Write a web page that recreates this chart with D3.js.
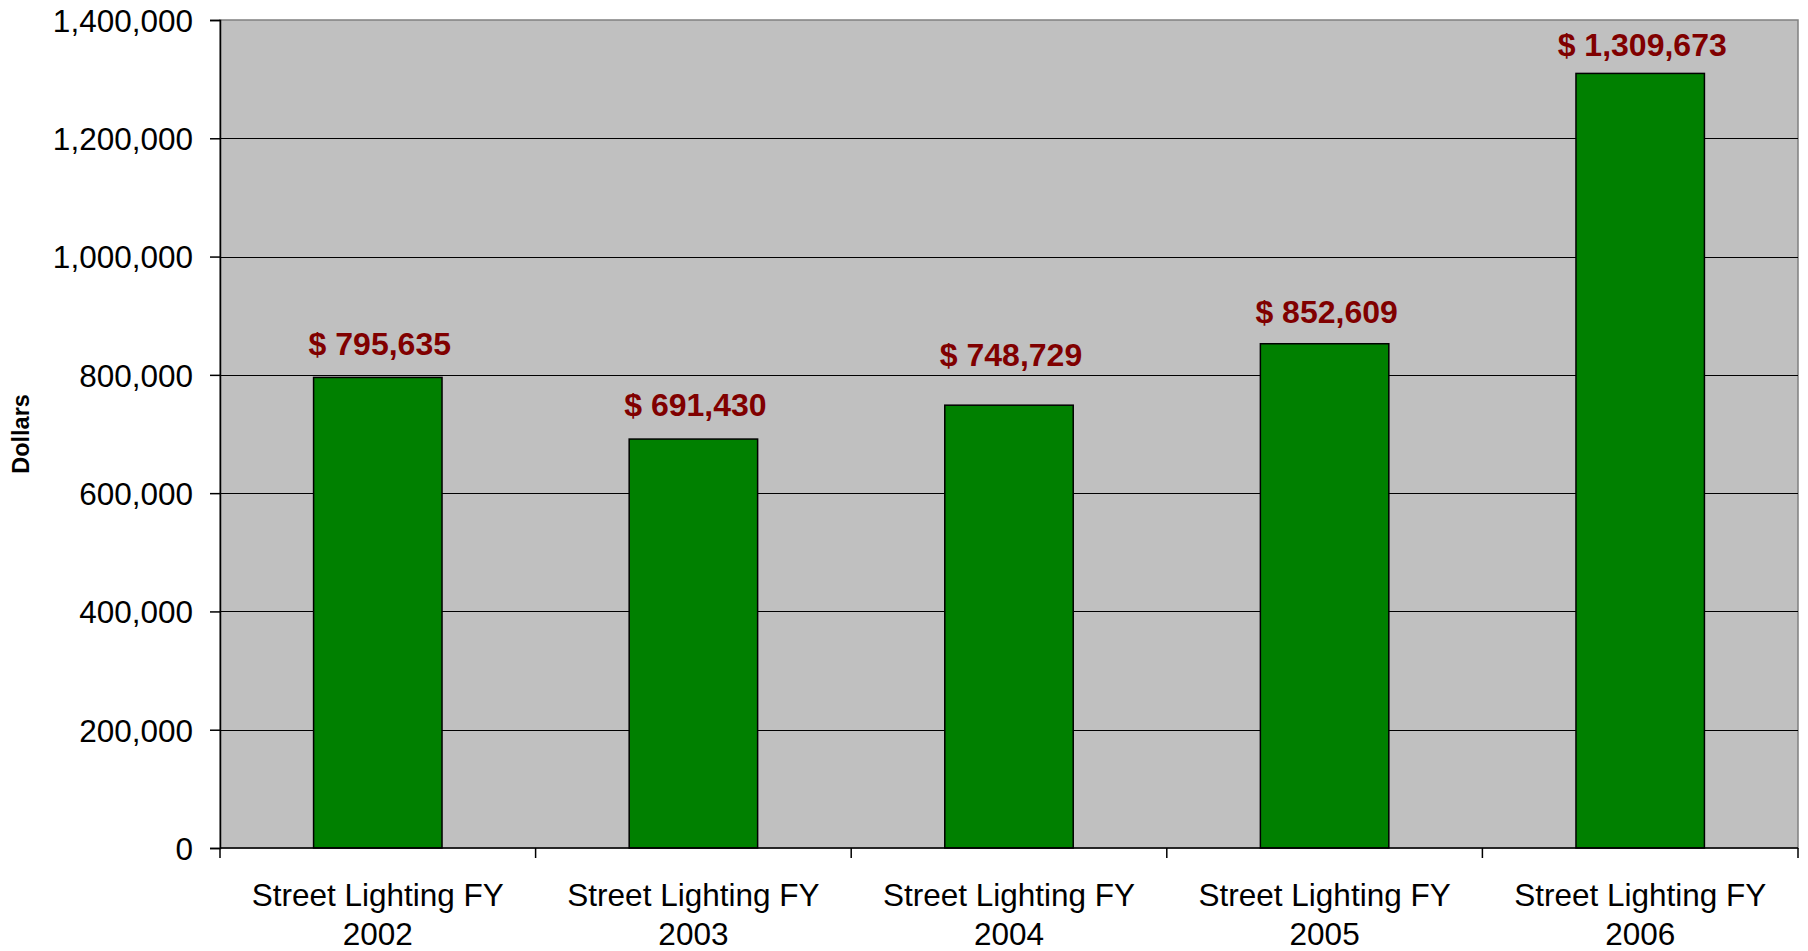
<!DOCTYPE html>
<html>
<head>
<meta charset="utf-8">
<script src="https://cdn.jsdelivr.net/npm/d3@7"></script>
<style>
  body { margin: 0; background: #fff; }
  text { font-family: "Liberation Sans", Arial, sans-serif; }
</style>
</head>
<body>
<div id="chart"></div>
<script>
const categories = ["Street Lighting FY 2002", "Street Lighting FY 2003", "Street Lighting FY 2004",
    "Street Lighting FY 2005", "Street Lighting FY 2006"];
const values = [795635, 691430, 748729, 852609, 1309673];
const yTicks = [0, 200000, 400000, 600000, 800000, 1000000, 1200000, 1400000];

const width = 1808;
const height = 951;
const margin = {top: 20, right: 10, bottom: 103, left: 220};
const plotW = width - margin.left - margin.right;
const plotH = height - margin.top - margin.bottom;

// gap between bar top and its value label (the labels were nudged by hand in the original)
const labelGap = [22, 23, 39, 21, 17];

const svg = d3.select("#chart").append("svg")
    .attr("width", width)
    .attr("height", height);

const g = svg.append("g")
    .attr("transform", `translate(${margin.left},${margin.top})`);

const x = d3.scaleBand()
    .domain(categories)
    .range([0, plotW])
    .paddingInner(0.593)
    .paddingOuter(0.2965);

const y = d3.scaleLinear()
    .domain([0, 1400000])
    .range([plotH, 0]);

// plot background
g.append("rect")
    .attr("width", plotW)
    .attr("height", plotH)
    .attr("fill", "#c0c0c0")
    .attr("stroke", "#808080")
    .attr("stroke-width", 1.5);

// gridlines
g.selectAll(".grid")
    .data(yTicks.filter(d => d > 0 && d < 1400000))
    .enter().append("line")
    .attr("x1", 0)
    .attr("x2", plotW)
    .attr("y1", d => Math.round(y(d)) + 0.5)
    .attr("y2", d => Math.round(y(d)) + 0.5)
    .attr("stroke", "#000")
    .attr("stroke-width", 1);

// bars
g.selectAll(".bar")
    .data(values)
    .enter().append("rect")
    .attr("x", (d, i) => x(categories[i]))
    .attr("y", d => y(d))
    .attr("width", x.bandwidth())
    .attr("height", d => plotH - y(d))
    .attr("fill", "#008000")
    .attr("stroke", "#000")
    .attr("stroke-width", 1.5);

// value labels
g.selectAll(".val")
    .data(values)
    .enter().append("text")
    .attr("x", (d, i) => x(categories[i]) + x.bandwidth() / 2 + 2)
    .attr("y", (d, i) => y(d) - labelGap[i])
    .attr("text-anchor", "middle")
    .attr("font-size", 32)
    .attr("font-weight", "bold")
    .attr("fill", "#800000")
    .text(d => "$ " + d3.format(",")(d));

// y axis
const yAxis = g.append("g")
    .call(d3.axisLeft(y).tickValues(yTicks).tickSize(10).tickPadding(17).tickFormat(d3.format(",")));
yAxis.select(".domain").attr("stroke", "#000").attr("stroke-width", 1.5);
yAxis.selectAll(".tick line").attr("stroke", "#000").attr("stroke-width", 1.5);
yAxis.selectAll(".tick text")
    .attr("font-size", 31.5)
    .attr("font-family", "'Liberation Sans', Arial, sans-serif")
    .attr("fill", "#000")
    .attr("dy", "0.36em");

// x axis: ticks at category boundaries
const xAxis = g.append("g")
    .attr("transform", `translate(0,${plotH})`);
xAxis.append("line")
    .attr("x1", 0).attr("x2", plotW)
    .attr("stroke", "#000").attr("stroke-width", 1.5);
xAxis.selectAll(".xt")
    .data(d3.range(categories.length + 1))
    .enter().append("line")
    .attr("x1", i => i * x.step())
    .attr("x2", i => i * x.step())
    .attr("y1", 0).attr("y2", 10)
    .attr("stroke", "#000").attr("stroke-width", 1.5);

const catLabel = xAxis.selectAll(".cat")
    .data(categories)
    .enter().append("text")
    .attr("text-anchor", "middle")
    .attr("font-size", 31.5)
    .attr("fill", "#000")
    .attr("transform", d => `translate(${x(d) + x.bandwidth() / 2},0)`);
catLabel.append("tspan")
    .attr("x", 0).attr("y", 58)
    .text(d => d.replace(/ \d+$/, ""));
catLabel.append("tspan")
    .attr("x", 0).attr("y", 97)
    .text(d => d.match(/\d+$/)[0]);

// y axis title
svg.append("text")
    .attr("transform", `translate(29,${margin.top + plotH / 2}) rotate(-90)`)
    .attr("text-anchor", "middle")
    .attr("font-size", 23.5)
    .attr("font-weight", "bold")
    .attr("fill", "#000")
    .text("Dollars");
</script>
</body>
</html>
